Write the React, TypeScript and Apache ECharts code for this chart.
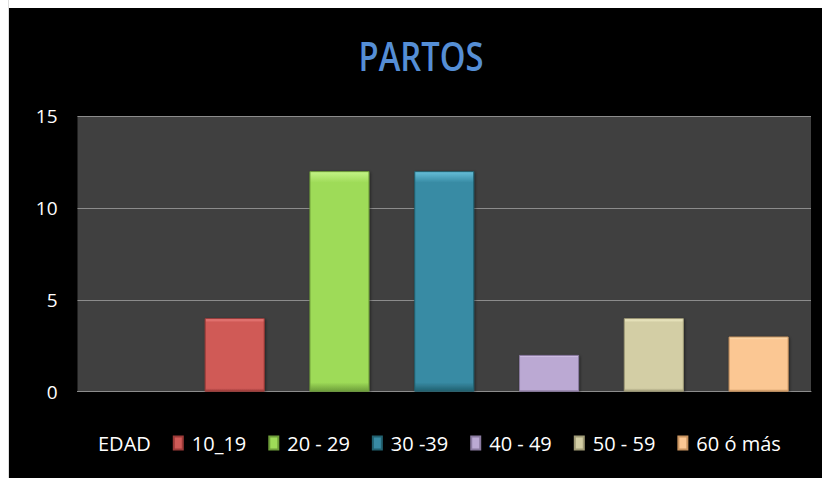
import React, { useEffect, useRef } from "react";
import * as echarts from "echarts";

const titleText = "PARTOS";
const categories = ["EDAD", "10_19", "20 - 29", "30 -39", "40 - 49", "50 - 59", "60 ó más"];
const values: (number | null)[] = [null, 4, 12, 12, 2, 4, 3];
const barColors = ["#000000", "#D05A57", "#9EDB58", "#388BA4", "#BBA9D3", "#D3CEA5", "#FBC793"];
const lightColors = ["#000000", "#F08683", "#C4F487", "#66BFD9", "#E4D6F5", "#F6F2CC", "#FFE3B8"];
const darkColors = ["#000000", "#9C3A38", "#6E9E3A", "#21606F", "#8A7AA0", "#A09B77", "#C99460"];
const yTicks = [0, 5, 10, 15];

export default function App() {
  const ref = useRef<HTMLDivElement>(null);
  useEffect(() => {
    if (!ref.current) return;
    const chart = echarts.init(ref.current, undefined, { renderer: "svg" });
    const series = categories.map((name, i) => ({
      name,
      type: "bar",
      stack: "g",
      barWidth: 60,
      data: categories.map((_, j) => (j === i ? values[i] : null)),
      itemStyle: {
        color: new echarts.graphic.LinearGradient(0, 0, 0, 1, [
          { offset: 0, color: lightColors[i] },
          { offset: 0.05, color: barColors[i] },
          { offset: 0.96, color: barColors[i] },
          { offset: 1, color: darkColors[i] },
        ]),
        borderColor: darkColors[i],
        borderWidth: 1,
        shadowColor: "rgba(0,0,0,0.5)",
        shadowBlur: 3,
        shadowOffsetX: 1,
        shadowOffsetY: 1,
      },
    }));
    chart.setOption({
      animation: false,
      backgroundColor: "#000000",
      graphic: [
        {
          type: "text",
          x: 412,
          y: 48,
          scaleX: 0.84,
          style: {
            text: titleText,
            fill: "#558ED5",
            font: "600 39px 'Open Sans', sans-serif",
            textAlign: "center",
            textVerticalAlign: "middle",
          },
        },
      ],
      grid: {
        left: 68.5,
        right: 11,
        top: 108,
        bottom: 86.3,
        show: true,
        backgroundColor: "#404040",
        borderWidth: 0,
      },
      legend: {
        bottom: 20,
        left: 66,
        itemWidth: 9,
        itemHeight: 13,
        itemGap: 22,
        data: categories.map((c, i) => (i === 0 ? { name: c, icon: "none" } : { name: c, icon: "rect" })),
        textStyle: {
          color: "#FFFFFF",
          fontFamily: "'Open Sans', sans-serif",
          fontSize: 20,
          padding: [0, 0, 0, 4],
        },
      },
      xAxis: {
        type: "category",
        data: categories,
        axisLabel: { show: false },
        axisTick: { show: false },
        axisLine: { show: true, lineStyle: { color: "#8C8C8C", width: 1 } },
      },
      yAxis: {
        type: "value",
        min: yTicks[0],
        max: yTicks[yTicks.length - 1],
        interval: 5,
        axisLine: { show: false },
        axisTick: { show: false },
        axisLabel: {
          color: "#FFFFFF",
          fontFamily: "'Open Sans', sans-serif",
          fontSize: 19,
          margin: 20,
        },
        splitLine: { lineStyle: { color: "#8C8C8C", width: 1 } },
      },
      series,
    });
    return () => chart.dispose();
  }, []);
  return (
    <div style={{ position: "fixed", left: 0, top: 0, width: 822, height: 478, background: "#FFFFFF" }}>
      <div style={{ position: "absolute", left: 8, top: 0, width: 1, height: 478, background: "#DDDDDD" }} />
      <div ref={ref} style={{ position: "absolute", left: 9, top: 8, width: 813, height: 470 }} />
    </div>
  );
}
